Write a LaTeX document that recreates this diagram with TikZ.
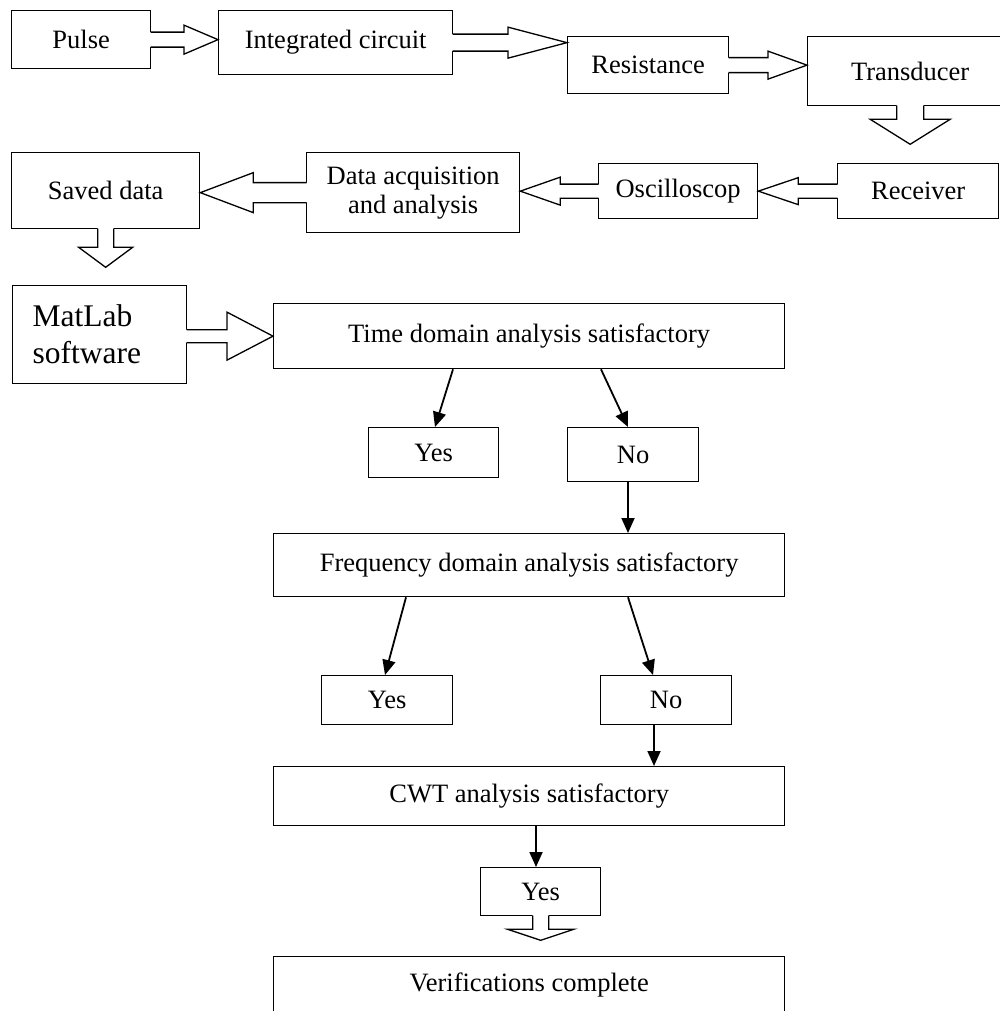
\documentclass[tikz,border=0pt]{standalone}
\usepackage{fontspec}
\setmainfont{Liberation Serif}
\usetikzlibrary{arrows.meta,calc}
\tikzset{
  box/.style={draw, line width=1.3pt, inner sep=0pt, anchor=north west,
    font=\fontsize{26.5}{29}\selectfont},
  blk/.style={draw, line width=1.3pt, line join=miter},
  flow/.style={line width=1.8pt, -{Triangle[length=15pt,width=13pt]}},
}
% block arrow: #1 start, #2 tip, #3 shaft half width, #4 head half width, #5 head length
\newcommand\blkarrow[5]{%
  \coordinate (bA) at (#1);
  \coordinate (bB) at (#2);
  \coordinate (bH) at ($(bB)!#5pt!(bA)$);
  \coordinate (bA0) at ($(bA)!-1.5pt!(bB)$);
  \coordinate (bA1) at ($(bA)!-0.6pt!(bB)$);
  \fill[white] ($(bA0)!#3pt!90:(bB)$) -- ($(bH)!#3pt!90:(bB)$) -- ($(bH)!#4pt!90:(bB)$)
    -- (bB) -- ($(bH)!#4pt!-90:(bB)$) -- ($(bH)!#3pt!-90:(bB)$) -- ($(bA0)!#3pt!-90:(bB)$) -- cycle;
  \draw[blk] ($(bA1)!#3pt!90:(bB)$) -- ($(bH)!#3pt!90:(bB)$) -- ($(bH)!#4pt!90:(bB)$)
    -- (bB) -- ($(bH)!#4pt!-90:(bB)$) -- ($(bH)!#3pt!-90:(bB)$) -- ($(bA1)!#3pt!-90:(bB)$);
}
\begin{document}
\begin{tikzpicture}[x=1pt,y=-1pt]
\useasboundingbox (0,0) rectangle (1000,1011);
% boxes
\node[box, minimum width=139, minimum height=58] (pulse) at (11,10) {Pulse};
\node[box, minimum width=234, minimum height=64] (ic) at (218,10) {Integrated circuit};
\node[box, minimum width=161, minimum height=57] (res) at (567,36) {Resistance};
\node[box, minimum width=205, minimum height=69] (trans) at (807,36) {Transducer};
\node[box, minimum width=161, minimum height=55] (recv) at (837,163) {Receiver};
\node[box, minimum width=159, minimum height=55] (osc) at (598,163) {Oscilloscop};
\node[box, minimum width=213, minimum height=80, align=center] (da) at (306,152) {Data acquisition\\and analysis};
\node[box, minimum width=188, minimum height=76] (saved) at (11,152) {Saved data};
\node[box, minimum width=174, minimum height=98, align=left, text width=134pt,
  font=\fontsize{31.5}{37}\selectfont] (matlab) at (12,285) {MatLab\\software};
\node[box, minimum width=511, minimum height=65] (time) at (273,303) {Time domain analysis satisfactory};
\node[box, minimum width=130, minimum height=50] (yes1) at (368,427) {Yes};
\node[box, minimum width=131, minimum height=54] (no1) at (567,427) {No};
\node[box, minimum width=511, minimum height=63] (freq) at (273,533) {Frequency domain analysis satisfactory};
\node[box, minimum width=131, minimum height=49] (yes2) at (321,675) {Yes};
\node[box, minimum width=131, minimum height=49] (no2) at (600,675) {No};
\node[box, minimum width=511, minimum height=59] (cwt) at (273,766) {CWT analysis satisfactory};
\node[box, minimum width=120, minimum height=48] (yes3) at (480,867) {Yes};
\node[box, minimum width=511, minimum height=57] (verif) at (273,956) {Verifications complete};
% free ends of block arrows
\coordinate (t2r) at ([yshift=-38pt]trans.south);
\coordinate (s2m) at ([yshift=-38pt]saved.south);
\coordinate (y2v) at ([yshift=-24pt]yes3.south);
% block arrows
\blkarrow{pulse.east}{pulse.east -| ic.west}{7.5}{14.5}{34}
\blkarrow{ic.east}{ic.east -| res.west}{8.5}{15.5}{59}
\blkarrow{res.east}{res.east -| trans.west}{7.5}{14}{39}
\blkarrow{trans.south}{t2r}{13.5}{40}{25}
\blkarrow{recv.west}{recv.west -| osc.east}{7}{13.5}{40}
\blkarrow{osc.west}{osc.west -| da.east}{7}{14}{40}
\blkarrow{da.west}{da.west -| saved.east}{10}{20}{53}
\blkarrow{saved.south}{s2m}{8}{27}{20}
\blkarrow{matlab.east |- time.west}{time.west}{6.5}{24}{46}
\blkarrow{yes3.south}{y2v}{8}{33}{11}
% decision arrows
\draw[flow] ([xshift=180pt]time.south west) -- ([xshift=67pt]yes1.north west);
\draw[flow] ([xshift=328pt]time.south west) -- ([xshift=61pt]no1.north west);
\coordinate (n1s) at ([xshift=61pt]no1.south west);
\draw[flow] (n1s) -- (n1s |- freq.north);
\draw[flow] ([xshift=133pt]freq.south west) -- ([xshift=64pt]yes2.north west);
\draw[flow] ([xshift=355pt]freq.south west) -- ([xshift=53pt]no2.north west);
\coordinate (n2s) at ([xshift=54pt]no2.south west);
\draw[flow] (n2s) -- (n2s |- cwt.north);
\coordinate (cs) at ([xshift=263pt]cwt.south west);
\draw[flow] (cs) -- (cs |- yes3.north);
\end{tikzpicture}
\end{document}
